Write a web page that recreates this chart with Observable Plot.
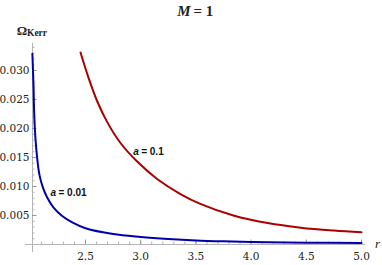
<!DOCTYPE html>
<html><head><meta charset="utf-8">
<script src="https://cdn.jsdelivr.net/npm/d3@7"></script>
<script src="https://cdn.jsdelivr.net/npm/@observablehq/plot@0.6"></script>
<style>body{margin:0;background:#fff}</style>
</head><body><div id="chart"></div>
<script>
// a = 0.01 curve
const blueR = [2.019, 2.029, 2.035, 2.047, 2.063, 2.083, 2.113, 2.153, 2.213, 2.289, 2.38, 2.5, 2.75, 3.0, 3.25, 3.5, 3.75, 4.0, 4.5, 5.0];
const blueOmega = [0.0329, 0.0274, 0.0228, 0.0182, 0.0148, 0.0120, 0.0099, 0.0081, 0.0063, 0.0049, 0.0038, 0.0028, 0.0018, 0.0013, 0.00095, 0.0007, 0.00055, 0.00045, 0.00032, 0.00024];
// a = 0.1 curve
const redR = [2.455, 2.53, 2.606, 2.697, 2.817, 2.968, 3.149, 3.36, 3.54, 3.84, 4.15, 4.45, 4.75, 5.0];
const redOmega = [0.0331, 0.0286, 0.0247, 0.0211, 0.0175, 0.0143, 0.0113, 0.0087, 0.0070, 0.0050, 0.0037, 0.0029, 0.0024, 0.0021];

const xTicks = [2.5, 3.0, 3.5, 4.0, 4.5, 5.0];
const xTickLabels = ["2.5", "3.0", "3.5", "4.0", "4.5", "5.0"];
const xMinor = [2.1,2.2,2.3,2.4,2.5,2.6,2.7,2.8,2.9,3.0,3.1,3.2,3.3,3.4,3.5,3.6,3.7,3.8,3.9,4.0,4.1,4.2,4.3,4.4,4.5,4.6,4.7,4.8,4.9,5.0];
const yTicks = [0.005, 0.010, 0.015, 0.020, 0.025, 0.030];
const yTickLabels = ["0.005", "0.010", "0.015", "0.020", "0.025", "0.030"];
const yMinor = [0.001,0.002,0.003,0.004,0.005,0.006,0.007,0.008,0.009,0.010,0.011,0.012,0.013,0.014,0.015,0.016,0.017,0.018,0.019,0.020,0.021,0.022,0.023,0.024,0.025,0.026,0.027,0.028,0.029,0.030,0.031,0.032,0.033,0.034];

const labelNames = ["= 0.01", "= 0.1"];
const labelR = [2.183, 2.932];
const labelOmega = [0.00897, 0.0159];

const title = "M";
const titleRest = "= 1";
const yLabel = "Ω";
const yLabelSub = "Kerr";
const xLabel = "r";

const blue = blueR.map((r, i) => ({r, w: blueOmega[i]}));
const red = redR.map((r, i) => ({r, w: redOmega[i]}));
const labels = labelNames.map((t, i) => ({t, r: labelR[i], w: labelOmega[i]}));

const X0 = 2.02;
const axisColor = "#b4b4b4";
const serif = "Liberation Serif";
const tickFont = "DejaVu Serif";
const sans = "Liberation Sans";

const chart = Plot.plot({
  width: 382,
  height: 265,
  marginLeft: 32,
  marginRight: 21,
  marginTop: 43,
  marginBottom: 21,
  x: {domain: [X0, 5.0], axis: null},
  y: {domain: [0, 0.03466], axis: null},
  style: {background: "#fff"},
  marks: [
    Plot.ruleY([0], {x1: 1.957, x2: 5.036, stroke: axisColor, strokeWidth: 1}),
    Plot.ruleX([X0], {y1: -0.00138, y2: 0.0347, stroke: axisColor, strokeWidth: 1}),
    Plot.ruleX(xMinor, {x: d => d, y1: () => 0, y2: () => 0, insetTop: 0, insetBottom: 2.5, stroke: axisColor}),
    Plot.ruleX(xTicks, {x: d => d, y1: () => 0, y2: () => 0, insetTop: 0, insetBottom: 4.5, stroke: "#999"}),
    Plot.ruleY(yMinor, {y: d => d, x1: () => X0, x2: () => X0, insetLeft: 0, insetRight: -2.5, stroke: axisColor}),
    Plot.ruleY(yTicks, {y: d => d, x1: () => X0, x2: () => X0, insetLeft: 0, insetRight: -4.5, stroke: "#999"}),
    Plot.text(xTicks, {x: d => d, y: () => 0, text: (d, i) => xTickLabels[i], dy: 12.5, lineAnchor: "middle", fontFamily: tickFont, fontSize: 10.5, fill: "#222"}),
    Plot.text(yTicks, {y: d => d, frameAnchor: "left", text: (d, i) => yTickLabels[i], dx: -3, textAnchor: "end", lineAnchor: "middle", fontFamily: tickFont, fontSize: 10.5, fill: "#222"}),
    Plot.line(blue, {x: "r", y: "w", stroke: "#0000aa", strokeWidth: 2, curve: "catmull-rom"}),
    Plot.line(red, {x: "r", y: "w", stroke: "#aa0000", strokeWidth: 2, curve: "catmull-rom"}),
    Plot.text(labels, {x: "r", y: "w", text: () => "a", textAnchor: "start", lineAnchor: "middle", fontFamily: sans, fontStyle: "italic", fontWeight: "bold", fontSize: 10, fill: "#111"}),
    Plot.text(labels, {x: "r", y: "w", text: "t", dx: 8, textAnchor: "start", lineAnchor: "middle", fontFamily: sans, fontWeight: "bold", fontSize: 10, fill: "#111"}),
    Plot.text([title], {frameAnchor: "top", text: d => d, dx: -6.5, dy: -32, textAnchor: "end", lineAnchor: "middle", fontFamily: serif, fontStyle: "italic", fontWeight: "bold", fontSize: 15, fill: "#222"}),
    Plot.text([titleRest], {frameAnchor: "top", text: d => d, dx: -3.5, dy: -32, textAnchor: "start", lineAnchor: "middle", fontFamily: serif, fontWeight: "bold", fontSize: 15, fill: "#222"}),
    Plot.text([yLabel], {frameAnchor: "top-left", text: d => d, dx: -10.5, dy: -12.5, textAnchor: "middle", lineAnchor: "middle", fontFamily: serif, fontWeight: "bold", fontSize: 13, fill: "#222"}),
    Plot.text([yLabelSub], {frameAnchor: "top-left", text: d => d, dx: -5.5, dy: -10.5, textAnchor: "start", lineAnchor: "middle", fontFamily: serif, fontWeight: "bold", fontSize: 9.5, fill: "#222"}),
    Plot.text([xLabel], {frameAnchor: "bottom-right", text: d => d, dx: 16, dy: -1, textAnchor: "middle", lineAnchor: "middle", fontFamily: serif, fontStyle: "italic", fontSize: 13, fill: "#222"})
  ]
});
document.getElementById("chart").appendChild(chart);
</script>
</body></html>
